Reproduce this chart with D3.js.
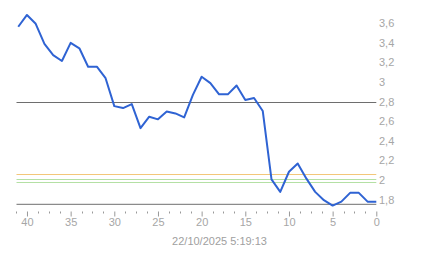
<!DOCTYPE html>
<html>
<head>
<meta charset="utf-8">
<script src="https://cdn.jsdelivr.net/npm/d3@7"></script>
<style>
  body { margin: 0; background: #fff; }
  text { font-family: Arial, "Liberation Sans", sans-serif; }
</style>
</head>
<body>
<div class="canvas"></div>
<script>
// data: steps back in time (41 .. 0) and price
const steps = d3.range(41, -1, -1);
const values = [3.565, 3.685, 3.595, 3.39, 3.275, 3.215, 3.40, 3.345, 3.157, 3.157,
  3.04, 2.755, 2.735, 2.775, 2.53, 2.647, 2.62, 2.70, 2.68, 2.64,
  2.87, 3.055, 2.99, 2.875, 2.875, 2.965, 2.817, 2.838, 2.705, 2.008,
  1.88, 2.085, 2.17, 2.015, 1.88, 1.795, 1.74, 1.78, 1.87, 1.87,
  1.78, 1.78];
const refLevels = [2.8, 2.06, 2.008, 1.977];
const refColors = ["#6e6e6e", "#f3c77a", "#b4e0a4", "#b4e0a4"];
const yTicks = [1.8, 2, 2.2, 2.4, 2.6, 2.8, 3, 3.2, 3.4, 3.6];
const xMajor = [40, 35, 30, 25, 20, 15, 10, 5, 0];
const xMinor = d3.range(0, 42, 1.25).filter(d => d % 5 !== 0);
const stamp = "22/10/2025 5:19:13";

// dimensions
const w = 443;
const h = 258;

const svg = d3.select(".canvas").append("svg").attr("width", w).attr("height", h);

// scales (reversed x: older on the left)
const x = d3.scaleLinear().domain([41.2, 0]).range([16.5, 376.3]);
const y = d3.scaleLinear().domain([1.8, 3.6]).range([199.7, 23.3]);
const yBase = 204.3;

// reference lines
svg.selectAll("line.ref")
  .data(refLevels)
  .enter()
  .append("line")
  .attr("class", "ref")
  .attr("x1", x(41.2))
  .attr("x2", x(0))
  .attr("y1", d => Math.round(y(d)) + 0.5)
  .attr("y2", d => Math.round(y(d)) + 0.5)
  .attr("stroke", (d, i) => refColors[i])
  .attr("stroke-width", 1);

// baseline
svg.append("line")
  .attr("x1", x(41.2)).attr("x2", x(0))
  .attr("y1", yBase).attr("y2", yBase)
  .attr("stroke", "#6e6e6e").attr("stroke-width", 1);

// price line
const line = d3.line().x((d, i) => x(steps[i])).y(d => y(d));
svg.append("path")
  .datum(values)
  .attr("fill", "none")
  .attr("stroke", "#2f63d3")
  .attr("stroke-width", 2)
  .attr("stroke-linejoin", "round")
  .attr("d", line);

// y labels on the right
svg.selectAll("text.ylab")
  .data(yTicks)
  .enter()
  .append("text")
  .attr("class", "ylab")
  .attr("x", 379)
  .attr("y", d => y(d))
  .attr("dy", "0.35em")
  .attr("font-size", 11)
  .attr("fill", "#a6a6a6")
  .text(d => d3.format(".1f")(d).replace(/\.0$/, "").replace(".", ","));

// x ticks
const xAxis = d3.axisBottom(x).tickValues(xMajor).tickSize(5).tickPadding(2);
const gx = svg.append("g")
  .attr("transform", `translate(0, 211.5)`)
  .call(xAxis);
gx.select(".domain").remove();
gx.selectAll(".tick line").attr("stroke", "#999");
gx.selectAll(".tick text").attr("fill", "#a6a6a6").attr("font-size", 11)
  .attr("font-family", "Arial, 'Liberation Sans', sans-serif");

svg.selectAll("line.minor")
  .data(xMinor)
  .enter()
  .append("line")
  .attr("class", "minor")
  .attr("x1", d => Math.round(x(d)) + 0.5)
  .attr("x2", d => Math.round(x(d)) + 0.5)
  .attr("y1", 211.5).attr("y2", 213.5)
  .attr("stroke", "#999");

// timestamp
svg.append("text")
  .attr("x", 219.5)
  .attr("y", 245)
  .attr("text-anchor", "middle")
  .attr("font-size", 11)
  .attr("fill", "#a0a0a0")
  .text(stamp);
</script>
</body>
</html>
